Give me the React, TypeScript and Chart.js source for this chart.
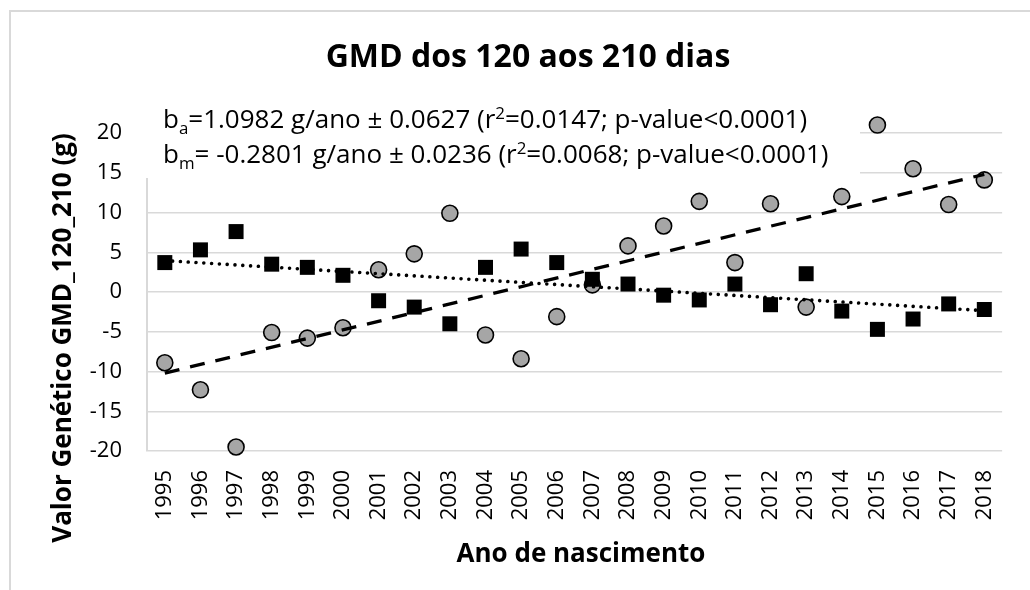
import React, { useEffect, useRef } from "react";
import { Chart, registerables } from "chart.js";

Chart.register(...registerables);

const FONT = "'Open Sans', sans-serif";

const years = [
  "1995", "1996", "1997", "1998", "1999", "2000", "2001", "2002",
  "2003", "2004", "2005", "2006", "2007", "2008", "2009", "2010",
  "2011", "2012", "2013", "2014", "2015", "2016", "2017", "2018",
];

// b_a (additive genetic value) – grey circles
const additiveValues = [
  -8.9, -12.3, -19.5, -5.1, -5.8, -4.5, 2.8, 4.8,
  9.9, -5.4, -8.4, -3.1, 0.9, 5.8, 8.3, 11.4,
  3.7, 11.1, -1.9, 12.0, 21.0, 15.5, 11.0, 14.1,
];

// b_m (maternal genetic value) – black squares
const maternalValues = [
  3.7, 5.3, 7.6, 3.5, 3.1, 2.1, -1.1, -1.9,
  -4.0, 3.1, 5.4, 3.7, 1.6, 1.0, -0.4, -1.0,
  1.0, -1.6, 2.3, -2.4, -4.7, -3.4, -1.5, -2.2,
];

// trend line end points (1995, 2018)
const trendYears = ["1995", "2018"];
const additiveTrend = [-10.2, 14.8];
const maternalTrend = [3.95, -2.35];

const yMin = -20;
const yMax = 20;
const yStep = 5;

const titleText = "GMD dos 120 aos 210 dias";
const xTitle = "Ano de nascimento";
const yTitle = "Valor Genético GMD_120_210 (g)";

type Part = [string, "n" | "sub" | "sup"];
const annotationLine1: Part[] = [
  ["b", "n"], ["a", "sub"], ["=1.0982 g/ano ± 0.0627 (r", "n"], ["2", "sup"],
  ["=0.0147; p-value<0.0001)", "n"],
];
const annotationLine2: Part[] = [
  ["b", "n"], ["m", "sub"], ["= -0.2801 g/ano ± 0.0236 (r", "n"], ["2", "sup"],
  ["=0.0068; p-value<0.0001)", "n"],
];

function drawRich(ctx: CanvasRenderingContext2D, parts: Part[], x: number, y: number, size: number) {
  let cx = x;
  ctx.textAlign = "left";
  ctx.textBaseline = "alphabetic";
  for (const [text, kind] of parts) {
    const s = kind === "n" ? size : size * 0.65;
    const dy = kind === "sub" ? size * 0.22 : kind === "sup" ? -size * 0.36 : 0;
    ctx.font = `${s}px ${FONT}`;
    ctx.fillText(text, cx, y + dy);
    cx += ctx.measureText(text).width;
  }
}

const decorPlugin = {
  id: "decor",
  beforeDraw(chart: any) {
    const ctx = chart.ctx as CanvasRenderingContext2D;
    ctx.save();
    ctx.fillStyle = "#ffffff";
    ctx.fillRect(0, 0, chart.width, chart.height);
    // outer frame
    ctx.strokeStyle = "#d9d9d9";
    ctx.lineWidth = 2;
    ctx.beginPath();
    ctx.moveTo(10, chart.height);
    ctx.lineTo(10, 11);
    ctx.lineTo(chart.width, 11);
    ctx.stroke();
    // title
    ctx.fillStyle = "#000";
    ctx.font = `bold 32px ${FONT}`;
    ctx.textAlign = "center";
    ctx.textBaseline = "alphabetic";
    ctx.fillText(titleText, 528, 67);
    // x title
    ctx.font = `bold 26px ${FONT}`;
    ctx.fillText(xTitle, 581, 562);
    // y title
    ctx.translate(71, 338);
    ctx.rotate(-Math.PI / 2);
    ctx.fillText(yTitle, 0, 0);
    ctx.restore();
  },
  beforeDatasetsDraw(chart: any) {
    const ctx = chart.ctx as CanvasRenderingContext2D;
    ctx.save();
    ctx.fillStyle = "#ffffff";
    ctx.fillRect(144, 92, 716, 86);
    ctx.fillStyle = "#000";
    drawRich(ctx, annotationLine1, 163, 128, 26);
    drawRich(ctx, annotationLine2, 163, 163, 26);
    ctx.restore();
  },
};

export default function App() {
  const canvasRef = useRef<HTMLCanvasElement | null>(null);

  useEffect(() => {
    if (!canvasRef.current) return;
    const chart = new Chart(canvasRef.current, {
      type: "line",
      data: {
        labels: years,
        datasets: [
          {
            label: "Tendência b_a",
            data: trendYears.map((x, i) => ({ x, y: additiveTrend[i] })) as any,
            borderColor: "#000",
            borderWidth: 3.3,
            borderDash: [15, 11],
            pointRadius: 0,
            fill: false,
            clip: false as any,
          },
          {
            label: "Tendência b_m",
            data: trendYears.map((x, i) => ({ x, y: maternalTrend[i] })) as any,
            borderColor: "#000",
            borderWidth: 3.6,
            borderDash: [0.01, 7.8],
            borderCapStyle: "round",
            pointRadius: 0,
            fill: false,
            clip: false as any,
          },
          {
            label: "b_m",
            data: maternalValues,
            showLine: false,
            pointStyle: "rect",
            pointRadius: 10.6,
            pointBackgroundColor: "#000",
            pointBorderColor: "#000",
            pointBorderWidth: 0,
            clip: false as any,
          },
          {
            label: "b_a",
            data: additiveValues,
            showLine: false,
            pointStyle: "circle",
            pointRadius: 8,
            pointBackgroundColor: "#a6a6a6",
            pointBorderColor: "#000",
            pointBorderWidth: 1.6,
            clip: false as any,
          },
        ],
      },
      options: {
        responsive: false,
        animation: false,
        devicePixelRatio: 1,
        layout: { padding: { top: 133, left: 0, right: 14, bottom: 0 } },
        plugins: {
          legend: { display: false },
          title: { display: false },
          tooltip: { enabled: false },
        },
        scales: {
          x: {
            type: "category",
            offset: true,
            grid: { display: false, drawTicks: false },
            border: { display: false },
            ticks: {
              autoSkip: false,
              minRotation: 90,
              maxRotation: 90,
              padding: 19,
              color: "#000",
              font: { family: FONT, size: 22 },
            },
            afterFit(scale: any) {
              scale.height = 139;
            },
          },
          y: {
            min: yMin,
            max: yMax,
            ticks: {
              stepSize: yStep,
              padding: 25,
              color: "#000",
              font: { family: FONT, size: 22 },
            },
            grid: { color: "#d9d9d9", lineWidth: 1.5, drawTicks: false },
            border: { display: true, color: "#d9d9d9", width: 2 },
            afterFit(scale: any) {
              scale.width = 147;
            },
          },
        },
      },
      plugins: [decorPlugin],
    });
    return () => chart.destroy();
  }, []);

  return (
    <div style={{ position: "fixed", left: 0, top: 0, width: 1030, height: 590, overflow: "hidden", background: "#fff" }}>
      <canvas ref={canvasRef} width={1030} height={590} style={{ display: "block" }} />
    </div>
  );
}
